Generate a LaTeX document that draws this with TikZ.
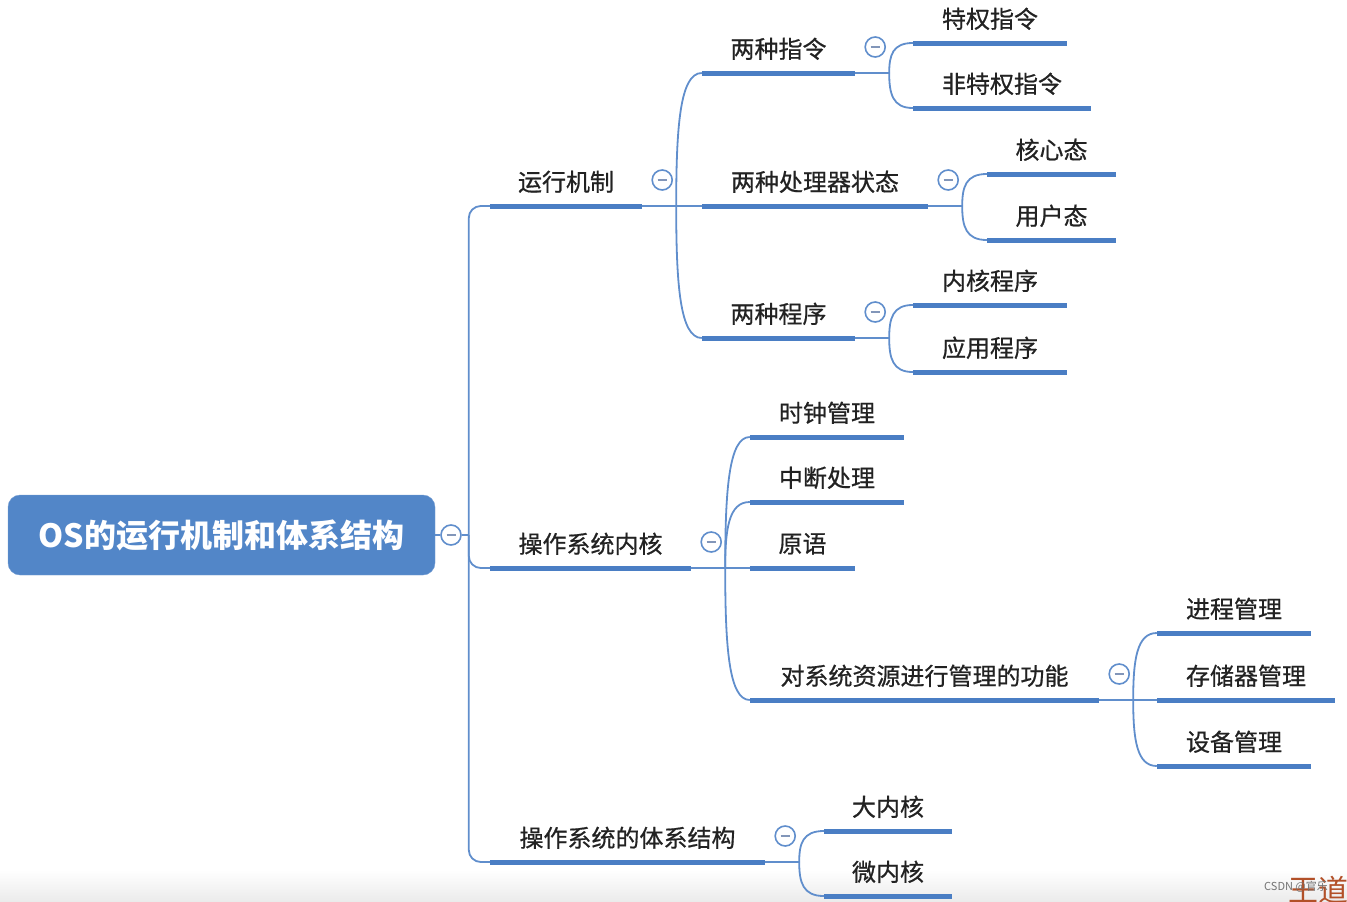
\documentclass[tikz,border=0pt]{standalone}
\usepackage{fontspec}
\newfontfamily\cjk{Noto Sans CJK SC}
\newfontfamily\cjkm[FakeBold=0.7]{Noto Sans CJK SC}
\usetikzlibrary{calc}
\definecolor{ulc}{RGB}{74,126,196}
\definecolor{cnc}{RGB}{96,142,204}
\definecolor{rootc}{RGB}{82,134,200}
\definecolor{txt}{RGB}{34,34,34}
\definecolor{minusc}{RGB}{130,150,185}
\definecolor{wd}{RGB}{178,80,40}
\newcommand\brc[2]{\draw[conn] (#1) .. controls ($(#1)!0.6!(#1 |- #2.south west)$) and ($(#1 |- #2.south west)!0.15!(#2.south west)$) .. (#2.south west);}
\begin{document}
\begin{tikzpicture}[x=1pt,y=-1pt,
 tp/.style={minimum height=48pt, anchor=south, inner sep=0pt, font=\cjkm\fontsize{24pt}{28pt}\selectfont, text=txt},
 ul/.style={draw=ulc, line width=5pt},
 conn/.style={draw=cnc, line width=1.8pt},
 fold/.style={circle, draw=cnc, line width=1.6pt, fill=white, minimum size=20pt, inner sep=0pt,
   path picture={\draw[minusc, line width=1.6pt] ([xshift=-4.5pt]path picture bounding box.center) -- ([xshift=4.5pt]path picture bounding box.center);}},
]
\useasboundingbox (0,0) rectangle (1347,902);
\shade[top color=white, bottom color=black!8] (0,870) rectangle (1347,902);

% root
\node[draw=rootc!80!white, fill=rootc, rounded corners=12pt, minimum width=427pt, minimum height=80pt, inner sep=0pt,
  font=\cjk\bfseries\fontsize{32pt}{36pt}\selectfont, text=white] (root) at (221.5,535) {OS的运行机制和体系结构};

% level 1
\node[tp, minimum width=152pt] (n1) at (566,206) {运行机制};
\node[tp, minimum width=201pt] (n2) at (590.5,568) {操作系统内核};
\node[tp, minimum width=275pt] (n3) at (627.5,862) {操作系统的体系结构};

% level 2
\node[tp, minimum width=153pt] (n11) at (778.5,73) {两种指令};
\node[tp, minimum width=226pt] (n12) at (815,206) {两种处理器状态};
\node[tp, minimum width=153pt] (n13) at (778.5,338) {两种程序};
\node[tp, minimum width=154pt] (n21) at (827,437) {时钟管理};
\node[tp, minimum width=154pt] (n22) at (827,502) {中断处理};
\node[tp, minimum width=105pt] (n23) at (802.5,568) {原语};
\node[tp, minimum width=349pt] (n24) at (924.5,700) {对系统资源进行管理的功能};
\node[tp, minimum width=128pt] (n31) at (888,831) {大内核};
\node[tp, minimum width=128pt] (n32) at (888,896) {微内核};

% level 3
\node[tp, minimum width=154pt] (n111) at (990,43) {特权指令};
\node[tp, minimum width=178pt] (n112) at (1002,108) {非特权指令};
\node[tp, minimum width=129pt] (n121) at (1051.5,174) {核心态};
\node[tp, minimum width=129pt] (n122) at (1051.5,240) {用户态};
\node[tp, minimum width=154pt] (n131) at (990,305) {内核程序};
\node[tp, minimum width=154pt] (n132) at (990,372) {应用程序};
\node[tp, minimum width=154pt] (n241) at (1234,633) {进程管理};
\node[tp, minimum width=178pt] (n242) at (1246,700) {存储器管理};
\node[tp, minimum width=154pt] (n243) at (1234,766) {设备管理};

% junctions
\node[fold] (f0) at (451,535) {};
\coordinate (j0) at ($(f0.east)+(7,0)$);
\foreach \p in {n1,n2,n11,n12,n13,n24,n3}{
  \coordinate (j\p) at ($(\p.south east)+(34,0)$);
}

% connectors
\draw[conn] (root.east) -- (f0.west);
\draw[conn] (f0.east) -- (j0);
\draw[conn, rounded corners=12pt] (j0) |- (n1.south west);
\draw[conn, rounded corners=12pt] (j0) |- (n2.south west);
\draw[conn, rounded corners=12pt] (j0) |- (n3.south west);

\draw[conn] (n1.south east) -- (jn1);
\brc{jn1}{n11} \brc{jn1}{n12} \brc{jn1}{n13}
\draw[conn] (n11.south east) -- (jn11);
\brc{jn11}{n111} \brc{jn11}{n112}
\draw[conn] (n12.south east) -- (jn12);
\brc{jn12}{n121} \brc{jn12}{n122}
\draw[conn] (n13.south east) -- (jn13);
\brc{jn13}{n131} \brc{jn13}{n132}

\draw[conn] (n2.south east) -- (jn2);
\brc{jn2}{n21} \brc{jn2}{n22} \brc{jn2}{n23} \brc{jn2}{n24}
\draw[conn] (n24.south east) -- (jn24);
\brc{jn24}{n241} \brc{jn24}{n242} \brc{jn24}{n243}

\draw[conn] (n3.south east) -- (jn3);
\brc{jn3}{n31} \brc{jn3}{n32}

% underlines
\foreach \n in {n1,n2,n3,n11,n12,n13,n21,n22,n23,n24,n31,n32,n111,n112,n121,n122,n131,n132,n241,n242,n243}{
  \draw[ul] (\n.south west) -- (\n.south east);
}

% fold markers
\foreach \n in {n1,n11,n12,n13,n2,n24,n3}{
  \node[fold] (f\n) at ($(\n.south east)+(20,-26)$) {};
}

% watermark
\node[anchor=west, inner sep=0pt, font=\cjk\fontsize{30pt}{30pt}\selectfont, text=wd] (wm) at (1288,890) {王道};
\node[anchor=west, inner sep=0pt, font=\cjk\fontsize{11pt}{11pt}\selectfont, text=black!55] (csdn) at (1264,887) {CSDN @官乐};
\end{tikzpicture}
\end{document}
